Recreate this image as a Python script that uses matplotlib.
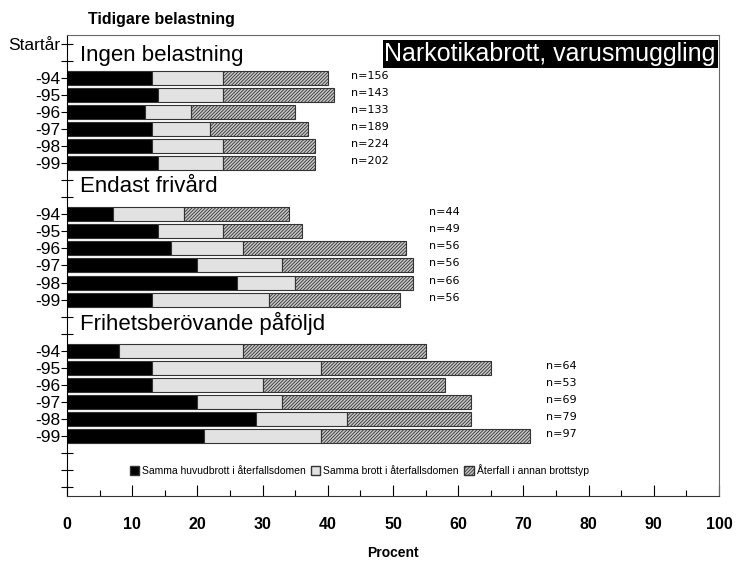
import numpy as np
import matplotlib
matplotlib.use('Agg')
import matplotlib.pyplot as plt
from matplotlib.patches import Patch

plt.rcParams['font.family'] = ['Liberation Sans', 'DejaVu Sans']
plt.rcParams['hatch.linewidth'] = 0.6

years = ['-94', '-95', '-96', '-97', '-98', '-99']
groups = ['Ingen belastning', 'Endast frivård', 'Frihetsberövande påföljd']

# procent per segment, one list per group
samma_huvud = [[13, 14, 12, 13, 13, 14],
               [7, 14, 16, 20, 26, 13],
               [8, 13, 13, 20, 29, 21]]
samma_brott = [[11, 10, 7, 9, 11, 10],
               [11, 10, 11, 13, 9, 18],
               [19, 26, 17, 13, 14, 18]]
annan_typ = [[16, 17, 16, 15, 14, 14],
             [16, 12, 25, 20, 18, 20],
             [28, 26, 28, 29, 19, 32]]
n_labels = [['n=156', 'n=143', 'n=133', 'n=189', 'n=224', 'n=202'],
            ['n=44', 'n=49', 'n=56', 'n=56', 'n=66', 'n=56'],
            ['', 'n=64', 'n=53', 'n=69', 'n=79', 'n=97']]

legend_labels = ['Samma huvudbrott i återfallsdomen',
                 'Samma brott i återfallsdomen',
                 'Återfall i annan brottstyp']

# row layout: row 0 = Startår, then blank rows + 6 year rows per group
first_rows = [2, 10, 18]
n_rows = 27
n_x = [43.5, 55.5, 73.5]
label_y = [0.7, 8.35, 16.4]

fig = plt.figure(figsize=(7.37, 5.61), dpi=100)
ax = fig.add_axes([0.0909, 0.1159, 0.8847, 0.8217])

ticklabels = [''] * n_rows
ticklabels[0] = 'Startår'
ec = '#333333'
for g in range(3):
    rows = np.arange(first_rows[g], first_rows[g] + len(years))
    a = np.array(samma_huvud[g])
    b = np.array(samma_brott[g])
    c = np.array(annan_typ[g])
    ax.barh(rows, a, height=0.82, color='black', edgecolor=ec, linewidth=0.8)
    ax.barh(rows, b, left=a, height=0.82, color='#e2e2e2', edgecolor=ec, linewidth=0.8)
    ax.barh(rows, c, left=a + b, height=0.82, color='#c8c8c8', edgecolor=ec,
            linewidth=0.8, hatch='//////////')
    for r, lab in zip(rows, n_labels[g]):
        ax.text(n_x[g], r - 0.12, lab, fontsize=8, va='center', ha='left',
                family='DejaVu Sans')
    for r, y in zip(rows, years):
        ticklabels[r] = y
    ax.text(2, label_y[g], groups[g], fontsize=16, va='center', ha='left')

ax.set_yticks(np.arange(n_rows))
ax.set_yticklabels(ticklabels, fontsize=12.5)
ax.set_ylim(n_rows - 0.5, -0.5)
ax.tick_params(axis='y', direction='inout', length=8, width=0.8, pad=1)

ax.set_xlim(0, 100)
ax.set_xticks(np.arange(0, 101, 10))
ax.set_xticks(np.arange(5, 100, 10), minor=True)
ax.tick_params(axis='x', which='major', direction='in', length=8, width=0.8, pad=15,
               labelsize=11.5)
ax.tick_params(axis='x', which='minor', direction='in', length=4, width=0.8)
for t in ax.get_xticklabels():
    t.set_fontweight('bold')
ax.set_xlabel('Procent', fontsize=10, fontweight='bold', labelpad=10)

ax.spines['left'].set_color('black')
ax.spines['bottom'].set_color('#333333')
ax.spines['top'].set_color('#666666')
ax.spines['right'].set_color('#666666')

ax.text(0.995, 0.985, 'Narkotikabrott, varusmuggling', transform=ax.transAxes,
        ha='right', va='top', fontsize=18, color='white',
        bbox=dict(facecolor='black', edgecolor='none', pad=1.2))

fig.text(0.119, 0.966, 'Tidigare belastning', fontsize=11.5, fontweight='bold',
         ha='left', va='center')

handles = [Patch(facecolor='black', edgecolor=ec),
           Patch(facecolor='#e2e2e2', edgecolor=ec),
           Patch(facecolor='#c8c8c8', edgecolor=ec, hatch='//////////')]
ax.legend(handles, legend_labels, loc='center', bbox_to_anchor=(0.448, 0.056),
          ncol=3, frameon=False, fontsize=7.5, handlelength=0.9, handleheight=0.9,
          handletextpad=0.3, columnspacing=0.5)

fig.savefig('out.png', dpi=100)
